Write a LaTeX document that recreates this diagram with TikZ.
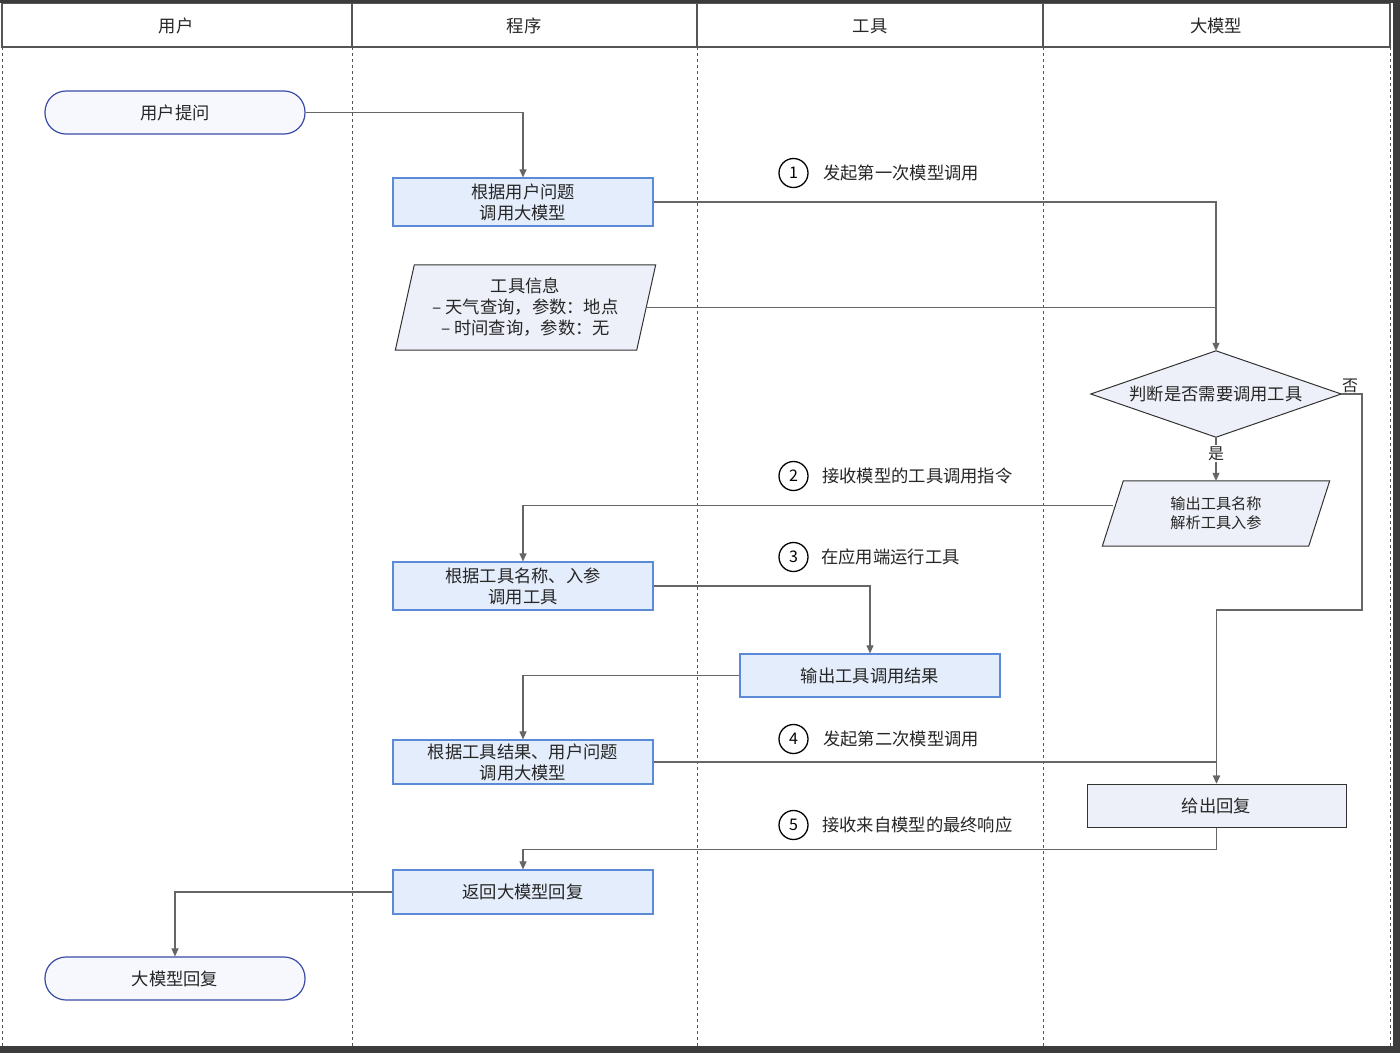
\documentclass[tikz,border=0pt]{standalone}
\usepackage{fontspec}
\setmainfont{Noto Sans CJK SC}
\usetikzlibrary{arrows.meta}
\definecolor{lineg}{HTML}{666666}
\definecolor{frameg}{HTML}{555555}
\definecolor{boxfill}{HTML}{E4EDFB}
\definecolor{boxline}{HTML}{5B8BD8}
\definecolor{parafill}{HTML}{EDF0F8}
\definecolor{stadline}{HTML}{3A4BA6}
\definecolor{stadfill}{HTML}{F7F8FD}
\definecolor{darkbar}{HTML}{3C3C3C}
\tikzset{
  txt/.style={font=\fontsize{17.3}{21}\selectfont, align=center, text=black!85},
  procbox/.style={txt, draw=boxline, fill=boxfill, line width=1.2pt, minimum width=260pt, minimum height=46pt, inner sep=0pt},
  stadium/.style={txt, draw=stadline, fill=stadfill, line width=1.2pt, rounded corners=21pt, minimum width=260pt, minimum height=43pt, inner sep=0pt},
  holder/.style={inner sep=0pt},
  paraline/.style={draw=black!80, fill=parafill, line width=1pt},
  modelbox/.style={txt, draw=black!80, fill=parafill, line width=1pt, minimum width=259pt, minimum height=43pt, inner sep=0pt},
  arr/.style={draw=lineg, line width=1.1pt, -{Triangle[length=8pt,width=7pt]}},
  conn/.style={draw=lineg, line width=1.1pt},
  stepnum/.style={circle, draw=black, line width=1.3pt, minimum size=29pt, inner sep=0pt, font=\fontsize{16}{16}\selectfont},
  steptxt/.style={anchor=west, inner sep=0pt, font=\fontsize{17.3}{20}\selectfont, text=black!85},
  lanehead/.style={font=\fontsize{17.3}{20}\selectfont, text=black!85},
  lanesep/.style={draw=frameg, line width=0.8pt, dash pattern=on 3pt off 3pt},
}
\begin{document}
\begin{tikzpicture}[x=1pt, y=-1pt]
\useasboundingbox (0,0) rectangle (1400,1053);
\fill[white] (0,0) rectangle (1400,1053);
% screen edges
\fill[darkbar] (0,0) rectangle (1400,2.5);
\fill[darkbar] (1393,0) rectangle (1400,1053);
\fill[darkbar] (0,1046) rectangle (1400,1053);
% lanes
\draw[lanesep] (2,47) -- (2,1046);
\draw[lanesep] (352,47) -- (352,1046);
\draw[lanesep] (697,47) -- (697,1046);
\draw[lanesep] (1043,47) -- (1043,1046);
\draw[lanesep] (1390,47) -- (1390,1046);
\draw[frameg, line width=1.5pt] (2,3.5) rectangle (1390,47);
\draw[frameg, line width=1.2pt] (352,3.5) -- (352,47) (697,3.5) -- (697,47) (1043,3.5) -- (1043,47);
\node[lanehead] (h1) at (176,26) {用户};
\node[lanehead] (h2) at (524,26) {程序};
\node[lanehead] (h3) at (870,26) {工具};
\node[lanehead] (h4) at (1216,26) {大模型};

% nodes
\node[stadium] (q) at (175,112.5) {用户提问};
\node[procbox, minimum height=48pt] (b1) at (523,202) {根据用户问题\\调用大模型};

\node[holder, minimum width=241pt, minimum height=85pt] (ti) at (525.5,307.5) {};
\path[paraline] ([xshift=9.5pt]ti.north west) -- ([xshift=9.5pt]ti.north east) -- ([xshift=-9.5pt]ti.south east) -- ([xshift=-9.5pt]ti.south west) -- cycle;
\node[txt] (tit) at (ti.center) {工具信息\\– 天气查询，参数：地点\\– 时间查询，参数：无};

\node[holder, minimum width=250pt, minimum height=86pt] (dia) at (1216,394) {};
\path[paraline] (dia.north) -- (dia.east) -- (dia.south) -- (dia.west) -- cycle;
\node[txt] (diat) at (dia.center) {判断是否需要调用工具};

\node[holder, minimum width=206pt, minimum height=65pt] (o1) at (1216,513.5) {};
\path[paraline] ([xshift=10.5pt]o1.north west) -- ([xshift=10.5pt]o1.north east) -- ([xshift=-10.5pt]o1.south east) -- ([xshift=-10.5pt]o1.south west) -- cycle;
\node[txt, font=\fontsize{15.2}{19}\selectfont] (o1t) at (o1.center) {输出工具名称\\解析工具入参};

\node[procbox, minimum height=48pt] (b3) at (523,586) {根据工具名称、入参\\调用工具};
\node[procbox, minimum height=43pt] (r) at (870,675.5) {输出工具调用结果};
\node[procbox, minimum height=44pt] (b5) at (523,762) {根据工具结果、用户问题\\调用大模型};
\node[modelbox] (reply) at (1216.5,805.5) {给出回复};
\node[procbox, minimum height=44pt] (b6) at (523,892) {返回大模型回复};
\node[stadium] (fin) at (175,978.5) {大模型回复};

% connectors
\draw[arr] (q.east) -| (b1.north);
\draw[arr] (b1.east) -| (dia.north);
\draw[conn] (ti.east) -- (ti.east -| dia.north);
\draw[arr] (dia.south) -- node[fill=white, inner sep=1.5pt, pos=0.38, font=\fontsize{16}{16}\selectfont, text=black!85] (yes) {是} (o1.north);
\coordinate (nob) at (1362,610);
\draw[arr] (dia.east) -| (nob) -| (reply.north);
\node[anchor=south west, inner sep=0pt, font=\fontsize{16}{16}\selectfont, text=black!85] (no) at (1342,393) {否};
\draw[arr] ([yshift=8pt]o1.west) -| (b3.north);
\draw[arr] (b3.east) -| (r.north);
\draw[arr] (r.west) -| (b5.north);
\draw[arr] (b5.east) -| (reply.north);
\draw[arr] (reply.south) -- ++(0,22) -| (b6.north);
\draw[arr] (b6.west) -| (fin.north);

% step labels
\node[stepnum] (s1) at (793.5,173) {1};
\node[steptxt] (s1t) at (823,173) {发起第一次模型调用};
\node[stepnum] (s2) at (793.5,476) {2};
\node[steptxt] (s2t) at (822,476) {接收模型的工具调用指令};
\node[stepnum] (s3) at (793.5,557) {3};
\node[steptxt] (s3t) at (821,557) {在应用端运行工具};
\node[stepnum] (s4) at (793.5,739) {4};
\node[steptxt] (s4t) at (823,739) {发起第二次模型调用};
\node[stepnum] (s5) at (793.5,825) {5};
\node[steptxt] (s5t) at (822,825) {接收来自模型的最终响应};
\end{tikzpicture}
\end{document}
